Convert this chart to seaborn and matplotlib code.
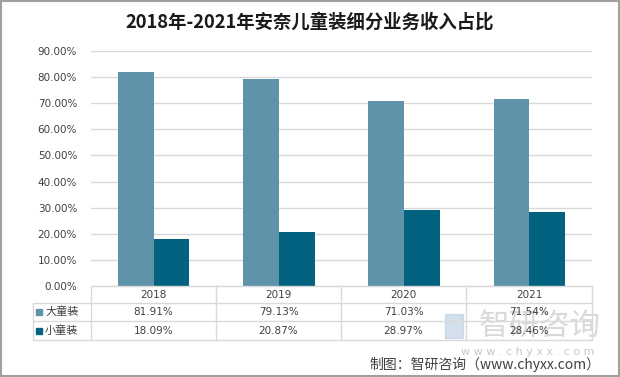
import numpy as np
import pandas as pd
import matplotlib
matplotlib.use('Agg')
import matplotlib.pyplot as plt
from matplotlib.patches import Rectangle
import seaborn as sns

# data
years = ['2018', '2019', '2020', '2021']
series_names = ['大童装', '小童装']
big_kids = [81.91, 79.13, 71.03, 71.54]
small_kids = [18.09, 20.87, 28.97, 28.46]
y_ticks = [0, 10, 20, 30, 40, 50, 60, 70, 80, 90]

COLORS = ['#5E93AA', '#03627F']
W, H = 620, 377

sns.set_theme(style='white')
plt.rcParams['font.family'] = ['Noto Sans CJK SC', 'DejaVu Sans']

df = pd.DataFrame({
    'year': years * 2,
    'series': [series_names[0]] * 4 + [series_names[1]] * 4,
    'value': big_kids + small_kids,
})

fig = plt.figure(figsize=(W / 100, H / 100), dpi=100)

def fx(px):
    return px / W

def fy(py):
    return 1 - py / H

# main plot area
ax_left, ax_right, ax_top, ax_bottom = 91, 592, 51, 286
ax = fig.add_axes([fx(ax_left), fy(ax_bottom), fx(ax_right - ax_left), fy(ax_top) - fy(ax_bottom)])
sns.barplot(data=df, x='year', y='value', hue='series', palette=COLORS,
            width=0.57, saturation=1, ax=ax, legend=False, edgecolor='none')
ax.set_ylim(0, 90)
ax.set_xlim(-0.5, 3.5)
ax.set_yticks(y_ticks)
ax.set_yticklabels([f'{v:.2f}%' for v in y_ticks], fontsize=7.5, color='#404040',
                   family=['DejaVu Sans'])
ax.tick_params(axis='y', length=0, pad=10)
ax.set_xticks([])
ax.set_xlabel('')
ax.set_ylabel('')
ax.yaxis.grid(True, color='#D9D9D9', linewidth=1)
ax.set_axisbelow(True)
for s in ['top', 'right', 'left', 'bottom']:
    ax.spines[s].set_visible(False)

# data table under the axis
line_c = '#D9D9D9'
tab_left = 33
row_lines = [286, 303, 321, 340]
col_lines = [91, 216, 341, 466, 592]
for i, yl in enumerate(row_lines):
    x0 = col_lines[0] if i == 0 else tab_left
    fig.add_artist(plt.Line2D([fx(x0), fx(col_lines[-1])], [fy(yl), fy(yl)],
                              color=line_c, linewidth=1))
for xl in col_lines:
    fig.add_artist(plt.Line2D([fx(xl), fx(xl)], [fy(row_lines[0]), fy(row_lines[-1])],
                              color=line_c, linewidth=1))
fig.add_artist(plt.Line2D([fx(tab_left), fx(tab_left)], [fy(row_lines[1]), fy(row_lines[-1])],
                          color=line_c, linewidth=1))

centers = [(col_lines[i] + col_lines[i + 1]) / 2 for i in range(4)]
for c, yr in zip(centers, years):
    fig.text(fx(c), fy((row_lines[0] + row_lines[1]) / 2), yr, ha='center', va='center',
             fontsize=7.5, color='#404040', family=['DejaVu Sans'])

for r, (name, vals, col) in enumerate(zip(series_names, [big_kids, small_kids], COLORS)):
    ymid = (row_lines[r + 1] + row_lines[r + 2]) / 2
    fig.add_artist(Rectangle((fx(36), fy(ymid + 3)), fx(6), fy(ymid - 3) - fy(ymid + 3),
                             color=col, transform=fig.transFigure))
    fig.text(fx(45), fy(ymid), name, ha='left', va='center', fontsize=8, color='#404040')
    for c, v in zip(centers, vals):
        fig.text(fx(c), fy(ymid), f'{v:.2f}%', ha='center', va='center',
                 fontsize=7.5, color='#404040', family=['DejaVu Sans'])

# title
fig.text(0.5, fy(22), '2018年-2021年安奈儿童装细分业务收入占比', ha='center', va='center',
         fontsize=13.2, fontweight='bold', color='#1a1a1a')

# watermark (sits over the last table column, as in the original)
fig.text(fx(540), fy(326), '智研咨询', ha='center', va='center', fontsize=22,
         color='#CDCDCD', alpha=0.75, zorder=0)
fig.add_artist(Rectangle((fx(445), fy(338)), fx(18), fy(314) - fy(338),
                         color='#B7CCE0', alpha=0.6, transform=fig.transFigure))
fig.text(fx(528), fy(352), 'w w w . c h y x x . c o m', ha='center', va='center',
         fontsize=8, color='#C8C8C8', family=['DejaVu Sans'])

# source
fig.text(fx(600), fy(364), '制图：智研咨询（www.chyxx.com）', ha='right', va='center',
         fontsize=10, color='#404040')

# outer border
fig.add_artist(Rectangle((0.001, 0.002), 0.997, 0.995, fill=False, edgecolor='#A0A0A0',
                         linewidth=1.5, transform=fig.transFigure))

fig.savefig('out.png', dpi=100)
